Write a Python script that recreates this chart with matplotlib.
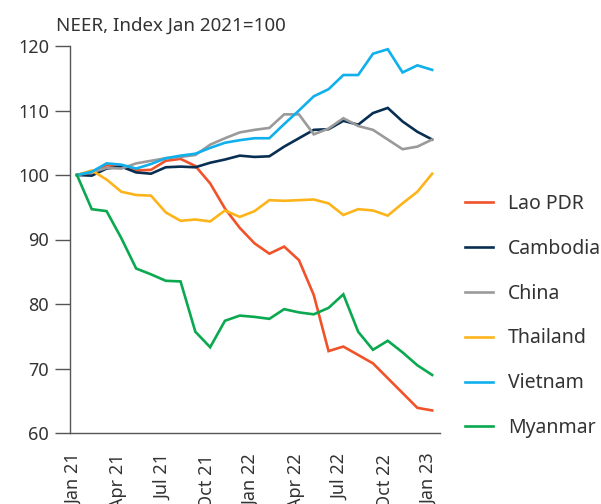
import matplotlib
matplotlib.use("Agg")
import matplotlib.pyplot as plt
import matplotlib.transforms as mtransforms

plt.rcParams['font.family'] = ['Noto Sans', 'DejaVu Sans']

months = list(range(25))  # Jan 2021 .. Jan 2023
tick_pos = [0, 3, 6, 9, 12, 15, 18, 21, 24]
tick_labels = ["Jan 21", "Apr 21", "Jul 21", "Oct 21", "Jan 22",
               "Apr 22", "Jul 22", "Oct 22", "Jan 23"]

lao = [100, 100.5, 101.5, 101.4, 100.7, 100.8, 102.2, 102.5, 101.4, 98.7,
       94.8, 91.8, 89.4, 87.8, 88.9, 86.8, 81.4, 72.7, 73.4, 72.1,
       70.8, 68.5, 66.2, 63.9, 63.5]
cambodia = [100, 99.9, 101.0, 101.3, 100.4, 100.2, 101.2, 101.3, 101.2, 101.9,
            102.4, 103.0, 102.8, 102.9, 104.4, 105.7, 107.0, 107.1, 108.4, 107.8,
            109.6, 110.4, 108.3, 106.7, 105.5]
china = [100, 100.4, 101.1, 101.0, 101.8, 102.2, 102.6, 102.8, 103.1, 104.7,
         105.7, 106.6, 107.0, 107.3, 109.4, 109.4, 106.3, 107.2, 108.8, 107.6,
         107.0, 105.5, 104.0, 104.4, 105.5]
thailand = [100, 100.7, 99.3, 97.4, 96.9, 96.8, 94.2, 92.9, 93.1, 92.8,
            94.5, 93.5, 94.4, 96.1, 96.0, 96.1, 96.2, 95.6, 93.8, 94.7,
            94.5, 93.7, 95.6, 97.4, 100.2]
vietnam = [100, 100.5, 101.8, 101.6, 101.0, 101.7, 102.6, 103.0, 103.3, 104.2,
           105.0, 105.4, 105.7, 105.7, 107.9, 110.0, 112.2, 113.3, 115.5, 115.5,
           118.8, 119.5, 115.9, 117.0, 116.3]
myanmar = [100, 94.7, 94.4, 90.2, 85.5, 84.6, 83.6, 83.5, 75.7, 73.3,
           77.4, 78.2, 78.0, 77.7, 79.2, 78.7, 78.4, 79.4, 81.5, 75.7,
           72.9, 74.3, 72.5, 70.5, 69.0]

series = [
    ("Lao PDR", lao, "#f0522a"),
    ("Cambodia", cambodia, "#082f52"),
    ("China", china, "#9a9a9a"),
    ("Thailand", thailand, "#fdb41a"),
    ("Vietnam", vietnam, "#0fb0ec"),
    ("Myanmar", myanmar, "#0aa84f"),
]

text_color = "#333333"
axis_color = "#555555"

fig = plt.figure(figsize=(6.01, 5.04), dpi=100)
ax = fig.add_axes([70 / 601, 1 - 433 / 504, 370 / 601, 387 / 504])

for name, vals, col in series:
    ax.plot(months, vals, color=col, lw=1.9, label=name, solid_joinstyle='miter')

ax.set_xlim(-0.47, 24.53)
ax.set_ylim(60, 120)
ax.set_yticks(range(60, 121, 10))
ax.tick_params(axis='y', direction='out', length=11, width=1.0,
               color=axis_color, labelsize=13, labelcolor=text_color, pad=4)
ax.set_xticks(tick_pos)
ax.set_xticklabels(tick_labels, rotation=90, fontsize=13, color=text_color)
ax.tick_params(axis='x', length=0, pad=15)
shift = mtransforms.ScaledTranslation(-3 / 100, 0, fig.dpi_scale_trans)
for lab in ax.get_xticklabels():
    lab.set_transform(lab.get_transform() + shift)

for side in ("top", "right"):
    ax.spines[side].set_visible(False)
ax.spines["left"].set_color(axis_color)
ax.spines["bottom"].set_color(axis_color)
ax.spines["left"].set_linewidth(1.0)
ax.spines["bottom"].set_linewidth(1.0)

fig.text(56 / 601, 1 - 31 / 504, "NEER, Index Jan 2021=100", fontsize=13.5,
         color=text_color, ha='left', va='baseline')

leg = ax.legend(loc='center left', bbox_to_anchor=(465 / 601, 1 - 316 / 504),
                bbox_transform=fig.transFigure, frameon=False, fontsize=14,
                handlelength=1.45, handletextpad=0.75, labelspacing=1.28,
                borderpad=0, borderaxespad=0)
for t in leg.get_texts():
    t.set_color(text_color)

fig.savefig("out.png", dpi=100)
